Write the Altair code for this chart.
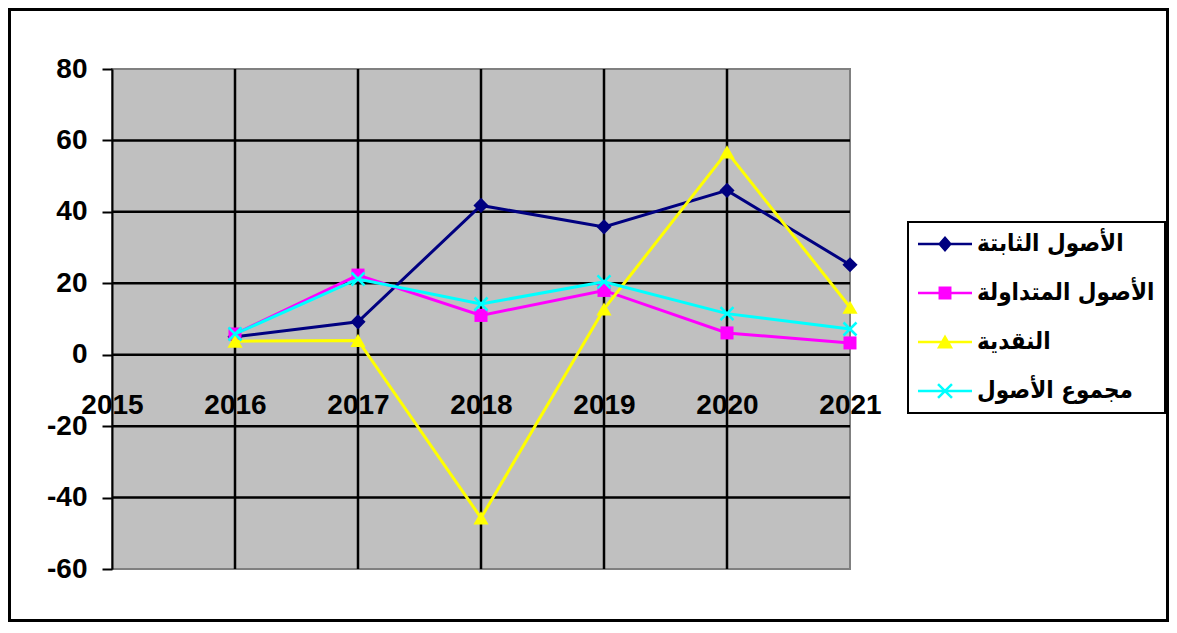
import altair as alt
import pandas as pd

# ---------------- data ----------------
years = [2016, 2017, 2018, 2019, 2020, 2021]
series_names = ["الأصول الثابتة", "الأصول المتداولة", "النقدية", "مجموع الأصول"]
fixed_assets = [5.0, 9.2, 41.8, 35.8, 46.0, 25.2]
current_assets = [5.8, 22.3, 11.0, 18.0, 6.1, 3.3]
cash = [3.8, 4.0, -45.7, 12.8, 56.8, 13.3]
total_assets = [5.8, 21.2, 14.2, 20.4, 11.5, 7.2]
x_ticks = [2015, 2016, 2017, 2018, 2019, 2020, 2021]
y_ticks = [-60, -40, -20, 0, 20, 40, 60, 80]
x_grid = [2016, 2017, 2018, 2019, 2020]
y_grid = [-40, -20, 0, 20, 40, 60]

series_values = [fixed_assets, current_assets, cash, total_assets]
colors = ["#000080", "#FF00FF", "#FFFF00", "#00FFFF"]

rows = []
for name, vals in zip(series_names, series_values):
    for yr, v in zip(years, vals):
        rows.append({"year": yr, "value": v, "series": name})
df = pd.DataFrame(rows)
xgrid_df = pd.DataFrame({"year": x_grid})
ygrid_df = pd.DataFrame({"value": y_grid})

# ---------------- marker paths ----------------
def x_path(a, d):
    return (f"M{-a+d},{-a-d}L{a+d},{a-d}L{a-d},{a+d}L{-a-d},{-a+d}Z"
            f"M{a+d},{-a+d}L{-a+d},{a+d}L{-a-d},{a-d}L{a-d},{-a-d}Z")

plot_x_path = x_path(1.0, 0.136)
plot_shapes = ["diamond", "square", "triangle-up", plot_x_path]
plot_sizes = [230, 169, 230, 169]

line_bar = "M-2.25,-0.104L2.25,-0.104L2.25,0.104L-2.25,0.104Z"
legend_paths = [
    line_bar + "M0,-0.67L0.58,0L0,0.67L-0.58,0Z",
    line_bar + "M-0.54,-0.54L0.54,-0.54L0.54,0.54L-0.54,0.54Z",
    line_bar + "M0,-0.62L0.67,0.55L-0.67,0.55Z",
    line_bar + x_path(0.58, 0.074),
]

color_scale = alt.Scale(domain=series_names, range=colors)

x_enc = alt.X(
    "year:Q",
    scale=alt.Scale(domain=[2015, 2021], nice=False, zero=False),
    axis=alt.Axis(
        values=x_ticks, format="d", offset=-214, domain=False, ticks=False,
        grid=False, labelPadding=36, labelFontSize=28, labelFont="Liberation Sans",
        labelFontWeight="bold", labelColor="black", labelFlush=False,
        labelOverlap=False, title=None,
    ),
)
y_enc = alt.Y(
    "value:Q",
    scale=alt.Scale(domain=[-60, 80], nice=False, zero=False),
    axis=alt.Axis(
        values=y_ticks, grid=False, domainColor="black", domainWidth=2,
        tickColor="black", tickWidth=2, tickSize=10, labelPadding=15,
        labelFontSize=28, labelFont="Liberation Sans", labelFontWeight="bold",
        labelColor="black", labelFlush=False, labelOverlap=False, title=None,
        labelExpr="'' + datum.value",
    ),
)

leg = alt.Legend(
    title=None, orient="none", legendX=796, legendY=153,
    labelFont="DejaVu Sans Condensed, DejaVu Sans", labelFontSize=24,
    labelFontWeight="bold",
    labelColor="black", symbolSize=576, symbolStrokeWidth=0,
    symbolOffset=15, labelOffset=20, rowPadding=25, padding=10,
    strokeColor="black", fillColor="white", labelLimit=400,
)
legend_layer = alt.Chart(df).transform_filter("false").mark_point(
    filled=True, opacity=1
).encode(
    x=x_enc, y=y_enc,
    color=alt.Color("series:N", scale=color_scale, legend=leg),
    shape=alt.Shape("series:N", scale=alt.Scale(domain=series_names, range=legend_paths), legend=leg),
)

frame = alt.Chart(alt.Data(values=[{"k": 1}])).mark_rect(
    filled=False, stroke="black", strokeWidth=3
).encode(
    x=alt.value(-102.5), x2=alt.value(1055.5),
    y=alt.value(-59.5), y2=alt.value(551.5),
)

vgrid = alt.Chart(xgrid_df).mark_rule(color="black", strokeWidth=2.5).encode(x=x_enc)
hgrid = alt.Chart(ygrid_df).mark_rule(color="black", strokeWidth=2.5).encode(y=y_enc)

layers = [legend_layer, frame, vgrid, hgrid]
for name, shp, sz in zip(series_names, plot_shapes, plot_sizes):
    base = alt.Chart(df).transform_filter(alt.datum.series == name)
    line = base.mark_line(strokeWidth=3).encode(
        x=x_enc, y=y_enc,
        color=alt.Color("series:N", scale=color_scale),
    )
    pts = base.mark_point(filled=True, opacity=1, shape=shp, size=sz).encode(
        x=x_enc, y=y_enc,
        color=alt.Color("series:N", scale=color_scale),
    )
    layers += [line, pts]

chart = alt.layer(*layers).properties(
    width=738, height=500,
    padding={"left": 104, "top": 61, "right": 319, "bottom": 53},
    autosize=alt.AutoSizeParams(type="none"),
    background="white",
).configure_view(
    fill="#C0C0C0", stroke="#808080", strokeWidth=2
).configure_legend(
    strokeWidth=2
)

chart.save("out.html", embed_options={"renderer": "svg", "actions": False})
